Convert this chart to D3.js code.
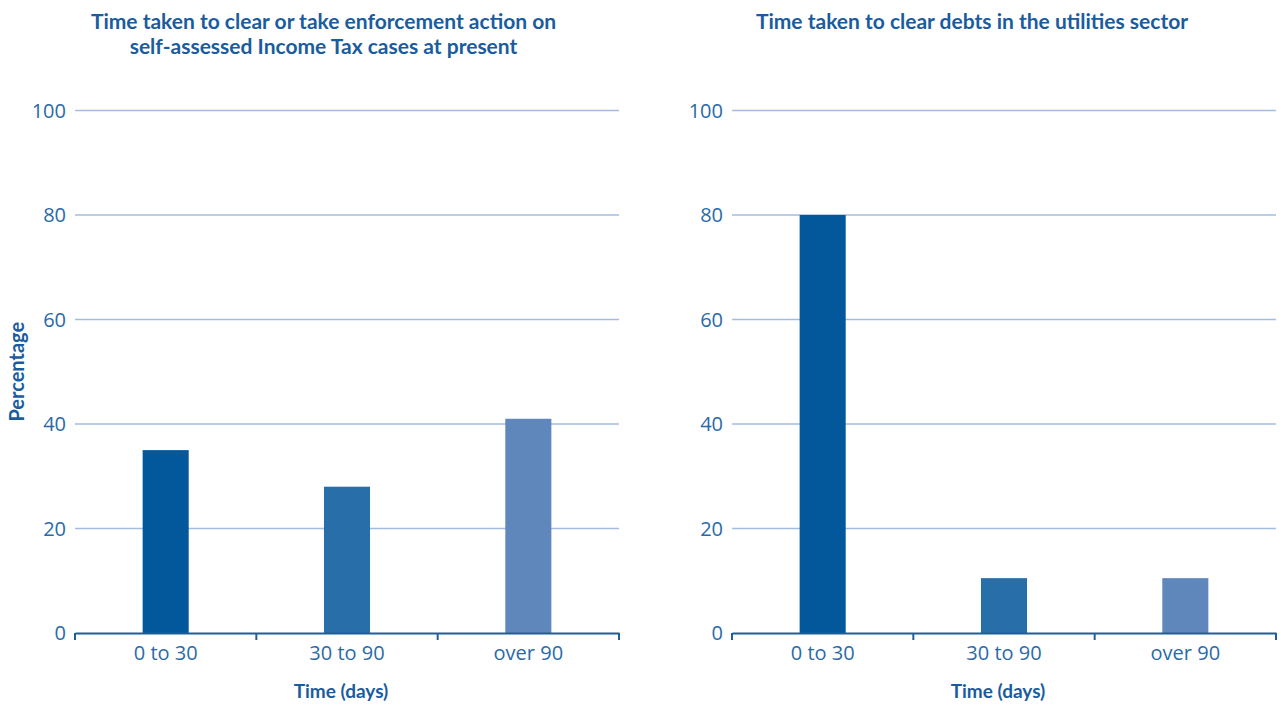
<!DOCTYPE html>
<html>
<head>
<meta charset="utf-8">
<script src="https://cdn.jsdelivr.net/npm/d3@7"></script>
<style>
  body { margin: 0; background: #fff; }
  svg { display: block; }
</style>
</head>
<body>
<div id="chart"></div>
<script>
// data
const categories = ["0 to 30", "30 to 90", "over 90"];
const taxValues = [35, 28, 41];
const utilityValues = [80, 10.5, 10.5];
const yTicks = [0, 20, 40, 60, 80, 100];
const titleTax = ["Time taken to clear or take enforcement action on", "self-assessed Income Tax cases at present"];
const titleUtility = ["Time taken to clear debts in the utilities sector"];

const barColors = ["#02589b", "#286ea9", "#5f87bb"];
const textColor = "#2a6aa7";
const titleColor = "#1a5c9d";
const gridColor = "#a3bde0";
const axisColor = "#1f5f98";

const W = 1284, H = 707;
const svg = d3.select("#chart").append("svg")
  .attr("width", W)
  .attr("height", H);

const y = d3.scaleLinear().domain([0, 100]).range([633, 110.5]);

// panelLeft = left edge of the whole panel (incl. tick labels), used to centre the title
function drawPanel(panelLeft, x0, x1, values, titleLines, showYLabel) {
  const g = svg.append("g");
  const x = d3.scaleBand().domain(categories).range([x0, x1]).padding(0);
  const barW = x.bandwidth() * 0.254;
  const cx = (x0 + x1) / 2;
  const titleX = (panelLeft + x1) / 2;

  // gridlines
  g.selectAll(".grid")
    .data(yTicks.filter(d => d > 0))
    .enter().append("line")
    .attr("x1", x0).attr("x2", x1)
    .attr("y1", d => y(d)).attr("y2", d => y(d))
    .attr("stroke", gridColor)
    .attr("stroke-width", 1.3);

  // y tick labels
  g.selectAll(".ylab")
    .data(yTicks)
    .enter().append("text")
    .attr("x", x0 - 9)
    .attr("y", d => y(d))
    .attr("dy", "0.36em")
    .attr("text-anchor", "end")
    .attr("font-family", "Open Sans")
    .attr("font-size", 20)
    .attr("fill", textColor)
    .text(d => d);

  // bars
  g.selectAll(".bar")
    .data(values)
    .enter().append("rect")
    .attr("x", (d, i) => x(categories[i]) + (x.bandwidth() - barW) / 2)
    .attr("y", d => y(d))
    .attr("width", barW)
    .attr("height", d => y(0) - y(d))
    .attr("fill", (d, i) => barColors[i]);

  // x axis
  const xAxis = d3.axisBottom(x).tickSize(0).tickPadding(13);
  const ax = g.append("g")
    .attr("transform", `translate(0, ${y(0)})`)
    .call(xAxis);
  ax.select(".domain").attr("stroke", axisColor).attr("stroke-width", 2);
  ax.selectAll(".tick text")
    .attr("font-family", "Open Sans")
    .attr("font-size", 20)
    .attr("fill", textColor);

  // boundary ticks
  const bounds = categories.map(c => x(c)).concat([x1]);
  g.selectAll(".btick")
    .data(bounds)
    .enter().append("line")
    .attr("x1", d => d).attr("x2", d => d)
    .attr("y1", y(0)).attr("y2", y(0) + 7)
    .attr("stroke", axisColor)
    .attr("stroke-width", 2);

  // x axis title
  g.append("text")
    .attr("x", cx - 6)
    .attr("y", 698)
    .attr("text-anchor", "middle")
    .attr("font-family", "Lato")
    .attr("font-weight", "bold")
    .attr("font-size", 19)
    .attr("fill", titleColor)
    .text("Time (days)");

  // title
  g.selectAll(".title")
    .data(titleLines)
    .enter().append("text")
    .attr("x", titleX)
    .attr("y", (d, i) => 29 + i * 25)
    .attr("text-anchor", "middle")
    .attr("font-family", "Lato")
    .attr("font-weight", "bold")
    .attr("font-size", 21)
    .attr("fill", titleColor)
    .text(d => d);

  if (showYLabel) {
    g.append("text")
      .attr("transform", `translate(24, ${(y(0) + y(100)) / 2}) rotate(-90)`)
      .attr("text-anchor", "middle")
      .attr("font-family", "Lato")
      .attr("font-weight", "bold")
      .attr("font-size", 20)
      .attr("fill", titleColor)
      .text("Percentage");
  }
}

drawPanel(28, 75, 619, taxValues, titleTax, true);
drawPanel(668, 732, 1276, utilityValues, titleUtility, false);
</script>
</body>
</html>
